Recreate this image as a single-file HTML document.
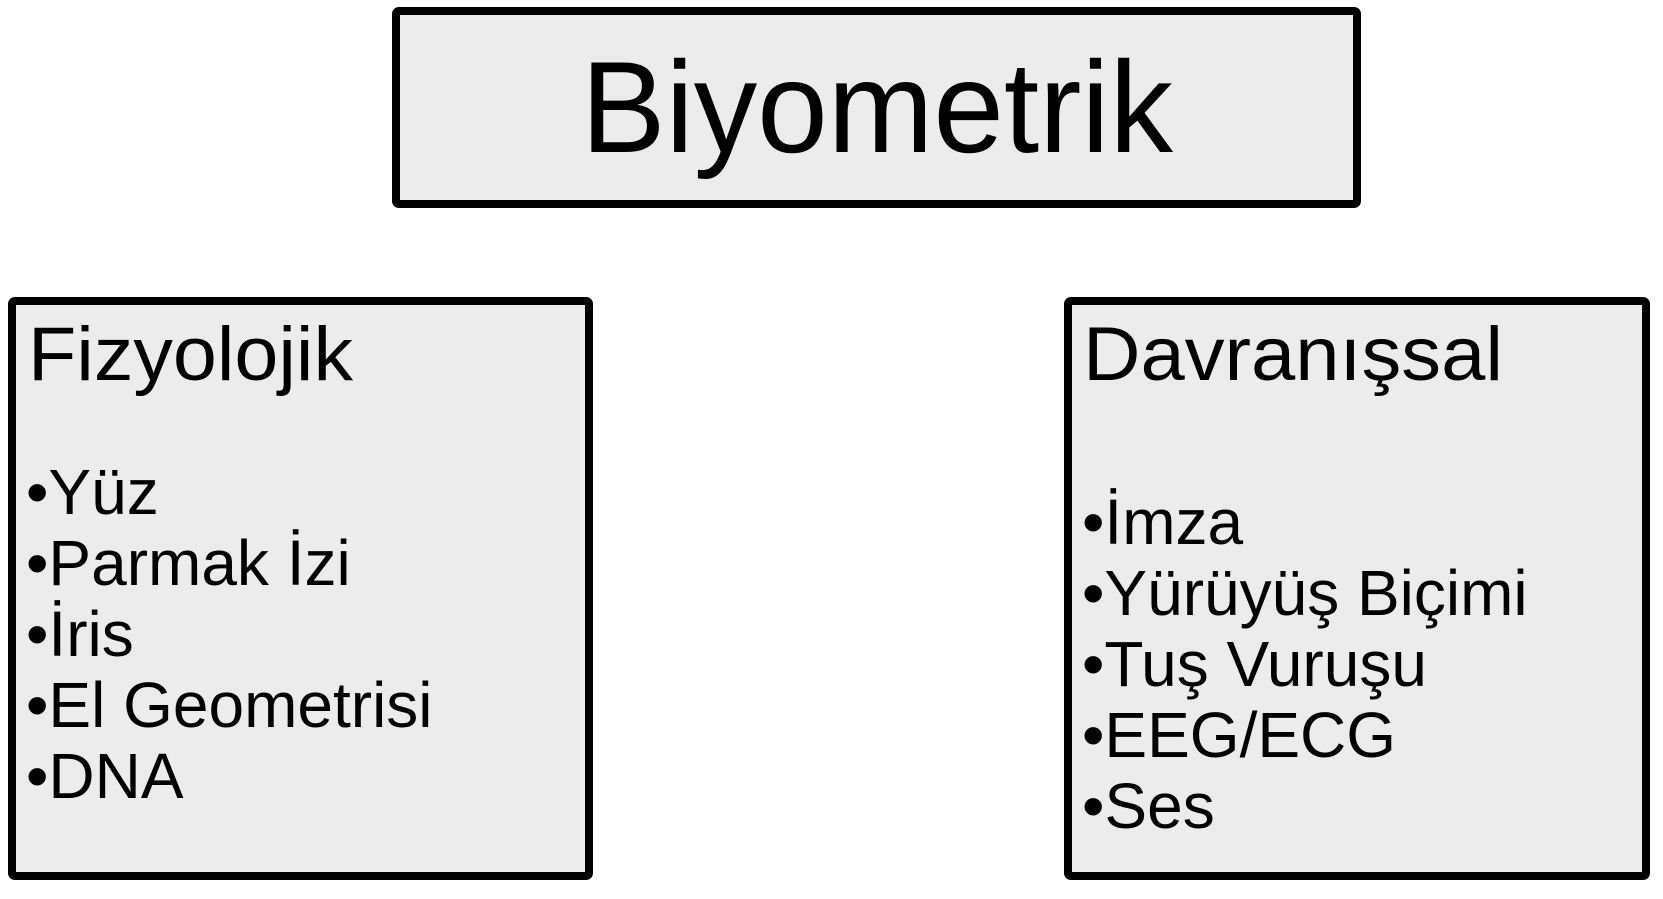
<!DOCTYPE html>
<html><head><meta charset="utf-8"><style>html,body{margin:0;padding:0;background:#fff}svg{display:block}</style></head>
<body>
<svg width="1663" height="899" xmlns="http://www.w3.org/2000/svg" font-family="Liberation Sans, Arial, sans-serif" fill="#000">
<rect x="396" y="11" width="961" height="193" rx="3" fill="#ececec" stroke="#000" stroke-width="8"/>
<rect x="12" y="301" width="577" height="575" rx="3" fill="#ececec" stroke="#000" stroke-width="8"/>
<rect x="1068" y="301" width="578" height="575" rx="3" fill="#ececec" stroke="#000" stroke-width="8"/>
<text x="877" y="152" font-size="130" text-anchor="middle" textLength="592" lengthAdjust="spacingAndGlyphs">Biyometrik</text>
<text x="28" y="380" font-size="76" textLength="325" lengthAdjust="spacingAndGlyphs">Fizyolojik</text>
<g font-size="64">
<text x="26" y="514">•Yüz</text>
<text x="26" y="585">•Parmak İzi</text>
<text x="26" y="656">•İris</text>
<text x="26" y="727">•El Geometrisi</text>
<text x="26" y="798">•DNA</text>
</g>
<text x="1083" y="380" font-size="76" textLength="420" lengthAdjust="spacingAndGlyphs">Davranışsal</text>
<g font-size="64">
<text x="1082" y="544">•İmza</text>
<text x="1082" y="615">•Yürüyüş Biçimi</text>
<text x="1082" y="686">•Tuş Vuruşu</text>
<text x="1082" y="757">•EEG/ECG</text>
<text x="1082" y="828">•Ses</text>
</g>
</svg>
</body></html>
